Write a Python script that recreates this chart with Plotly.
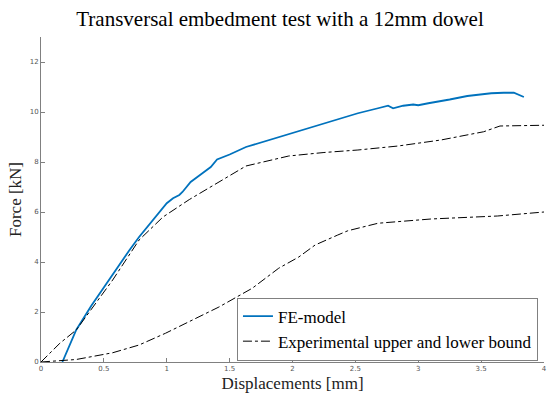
import plotly.graph_objects as go

fe_x = [0.17, 0.22, 0.28, 0.40, 0.50, 0.60, 0.70, 0.78, 0.90, 1.00, 1.05, 1.10, 1.125, 1.19, 1.27, 1.35, 1.40, 1.50, 1.63, 1.75, 1.89, 2.02, 2.15, 2.30, 2.42, 2.52, 2.68, 2.76, 2.80, 2.88, 2.96, 3.00, 3.08, 3.15, 3.25, 3.39, 3.50, 3.58, 3.68, 3.76, 3.84]
fe_y = [0.0, 0.6, 1.28, 2.25, 3.0, 3.75, 4.45, 5.0, 5.75, 6.35, 6.55, 6.68, 6.8, 7.2, 7.5, 7.8, 8.1, 8.3, 8.6, 8.78, 9.0, 9.18, 9.4, 9.62, 9.8, 9.95, 10.15, 10.25, 10.15, 10.25, 10.3, 10.27, 10.35, 10.4, 10.5, 10.64, 10.7, 10.75, 10.77, 10.77, 10.6]

up_x = [0.0, 0.15, 0.28, 0.40, 0.57, 0.78, 0.97, 1.18, 1.415, 1.63, 1.97, 2.25, 2.52, 2.84, 3.18, 3.52, 3.65, 3.94, 4.0]
up_y = [0.0, 0.75, 1.28, 2.1, 3.28, 4.88, 5.8, 6.5, 7.2, 7.84, 8.24, 8.38, 8.48, 8.64, 8.88, 9.21, 9.44, 9.48, 9.47]

lo_x = [0.0, 0.28, 0.57, 0.78, 0.99, 1.2, 1.415, 1.68, 1.89, 2.05, 2.18, 2.36, 2.44, 2.68, 3.1, 3.63, 4.0]
lo_y = [0.0, 0.1, 0.37, 0.68, 1.15, 1.68, 2.2, 2.95, 3.75, 4.2, 4.68, 5.08, 5.25, 5.55, 5.72, 5.84, 6.0]

x_ticks = [0, 0.5, 1, 1.5, 2, 2.5, 3, 3.5, 4]
y_ticks = [0, 2, 4, 6, 8, 10, 12]

serif = "Liberation Serif, DejaVu Serif, serif"

fig = go.Figure()
fig.add_trace(go.Scatter(x=fe_x, y=fe_y, mode="lines", name="FE-model",
                         line=dict(color="#0072BD", width=1.8)))
fig.add_trace(go.Scatter(x=up_x, y=up_y, mode="lines", name="Experimental upper and lower bound",
                         line=dict(color="black", width=1, dash="dashdot")))
fig.add_trace(go.Scatter(x=lo_x, y=lo_y, mode="lines", showlegend=False,
                         line=dict(color="black", width=1, dash="dashdot")))

axis_common = dict(showgrid=False, zeroline=False, showline=True, linecolor="#808080",
                   linewidth=1, ticks="inside", ticklen=4, tickcolor="#808080",
                   tickfont=dict(family="DejaVu Sans, sans-serif", size=7, color="#555555"))

fig.update_layout(
    width=550, height=394,
    margin=dict(l=41, r=3, t=37, b=32),
    paper_bgcolor="white", plot_bgcolor="white",
    title=dict(text="Transversal embedment test with a 12mm dowel",
               x=280 / 550, xanchor="center", xref="container", y=1 - 19/394, yanchor="middle",
               font=dict(family=serif, size=21, color="black")),
    xaxis=dict(range=[0, 4], tickvals=x_ticks, ticktext=[str(v) for v in x_ticks],
               title=dict(text="Displacements [mm]", font=dict(family=serif, size=17, color="#222222"), standoff=4),
               **axis_common),
    yaxis=dict(range=[0, 13], tickvals=y_ticks, ticktext=[str(v) for v in y_ticks],
               title=dict(text="Force [kN]", font=dict(family=serif, size=17, color="#222222"), standoff=3),
               **axis_common),
    legend=dict(x=0.988, y=0.1015, xanchor="right", yanchor="middle",
                bordercolor="#808080", borderwidth=1, bgcolor="white",
                font=dict(family=serif, size=17, color="black"),
                tracegroupgap=0, itemwidth=30),
    showlegend=True,
)

fig.write_html("out.html")
